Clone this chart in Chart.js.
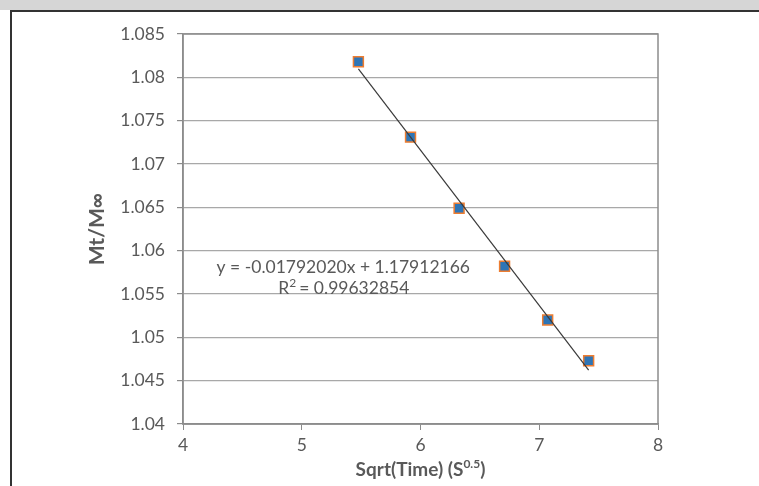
<!DOCTYPE html>
<html>
<head>
<meta charset="utf-8">
<script src="https://cdn.jsdelivr.net/npm/chart.js@4.4.1/dist/chart.umd.min.js"></script>
<style>
  html, body { margin: 0; padding: 0; background: #fff; overflow: hidden; }
  #band { position: absolute; left: 0; top: 0; width: 759px; height: 10px; background: #d6d6d6; }
  #frame { position: absolute; left: 10px; top: 10px; width: 800px; height: 500px;
           border-left: 2px solid #333; border-top: 2px solid #333; }
  #wrap { position: absolute; left: 0; top: 0; width: 759px; height: 486px; }
</style>
</head>
<body>
<div id="band"></div>
<div id="frame"></div>
<div id="wrap"><canvas id="fitChart" width="759" height="486"></canvas></div>
<script>
// Sqrt(time) values and measured Mt/M∞ ratios
const sqrtTime = [5.477, 5.916, 6.325, 6.708, 7.071, 7.416];
const ratio = [1.0818, 1.0731, 1.0649, 1.0582, 1.0520, 1.0473];

// Linear trendline as printed on the chart
const slope = -0.01792020;
const intercept = 1.17912166;
const rSquared = 0.99632854;

const xTicks = [4, 5, 6, 7, 8];
const yTicks = [1.04, 1.045, 1.05, 1.055, 1.06, 1.065, 1.07, 1.075, 1.08, 1.085];

const gray = '#595959';
const font = 'Lato, "Open Sans", sans-serif';

// trendline spans the observed x range
const xFirst = sqrtTime[0];
const xLast = sqrtTime[sqrtTime.length - 1];
const trend = [
    { x: xFirst, y: slope * xFirst + intercept },
    { x: xLast, y: slope * xLast + intercept }
];

// Draw plot border, axis titles and the equation label
const extras = {
    id: 'extras',
    afterDraw(chart) {
        const { ctx, chartArea: a, scales } = chart;
        ctx.save();
        ctx.strokeStyle = '#8c8c8c';
        ctx.lineWidth = 1.5;
        ctx.strokeRect(a.left, a.top, a.right - a.left, a.bottom - a.top);

        ctx.fillStyle = gray;
        ctx.textBaseline = 'middle';

        // y title
        ctx.save();
        ctx.translate(97, (a.top + a.bottom) / 2);
        ctx.rotate(-Math.PI / 2);
        ctx.font = 'bold 21px ' + font;
        ctx.textAlign = 'center';
        ctx.fillText('Mt/M\u221e', 0, 0);
        ctx.restore();

        // x title with superscript
        const main = 'Sqrt(Time) (S';
        const sup = '0.5';
        const close = ')';
        ctx.font = 'bold 19px ' + font;
        const w1 = ctx.measureText(main).width;
        const w3 = ctx.measureText(close).width;
        ctx.font = 'bold 12px ' + font;
        const w2 = ctx.measureText(sup).width;
        let x = (a.left + a.right) / 2 - (w1 + w2 + w3) / 2;
        const y = 470;
        ctx.textAlign = 'left';
        ctx.font = 'bold 19px ' + font;
        ctx.fillText(main, x, y);
        x += w1;
        ctx.font = 'bold 12px ' + font;
        ctx.fillText(sup, x, y - 6);
        x += w2;
        ctx.font = 'bold 19px ' + font;
        ctx.fillText(close, x, y);

        // equation label
        ctx.font = '17.5px ' + font;
        ctx.textAlign = 'center';
        const cx = scales.x.getPixelForValue(5.35);
        const eq = 'y = ' + slope.toFixed(8) + 'x + ' + intercept.toFixed(8);
        ctx.fillText(eq, cx, scales.y.getPixelForValue(1.0581));
        const r2 = '= ' + rSquared.toFixed(8);
        const wr = ctx.measureText('R  ' + r2).width;
        const ry = scales.y.getPixelForValue(1.0557);
        ctx.textAlign = 'left';
        let rx = cx - wr / 2;
        ctx.fillText('R', rx, ry);
        rx += ctx.measureText('R').width;
        ctx.font = '12px ' + font;
        ctx.fillText('2', rx, ry - 5);
        rx += ctx.measureText('2').width + 3;
        ctx.font = '17.5px ' + font;
        ctx.fillText(r2, rx, ry);
        ctx.restore();
    }
};

new Chart(document.getElementById('fitChart').getContext('2d'), {
    type: 'scatter',
    data: {
        datasets: [
            {
                label: 'Linear fit',
                data: trend,
                showLine: true,
                borderColor: '#3a3a3a',
                borderWidth: 1.2,
                pointRadius: 0
            },
            {
                label: 'Mt/M\u221e',
                data: sqrtTime.map((t, i) => ({ x: t, y: ratio[i] })),
                pointStyle: 'rect',
                pointRadius: 7,
                backgroundColor: '#2e75b6',
                borderColor: '#ed7d31',
                borderWidth: 1.5
            }
        ]
    },
    plugins: [extras],
    options: {
        responsive: false,
        animation: false,
        layout: { padding: { left: 103, right: 101, top: 34, bottom: 32 } },
        plugins: {
            legend: { display: false },
            tooltip: { enabled: false }
        },
        scales: {
            x: {
                type: 'linear',
                min: 4,
                max: 8,
                afterBuildTicks: s => { s.ticks = xTicks.map(v => ({ value: v })); },
                afterFit: s => { s.height = 30; },
                grid: { drawOnChartArea: false, drawTicks: true, tickLength: 6, color: '#8c8c8c' },
                border: { color: '#8c8c8c', width: 1.5 },
                ticks: { color: gray, font: { family: font, size: 17.5 }, padding: 5 }
            },
            y: {
                type: 'linear',
                min: 1.04,
                max: 1.085,
                afterBuildTicks: s => { s.ticks = yTicks.map(v => ({ value: v })); },
                afterFit: s => { s.width = 80; },
                grid: { color: '#a8a8a8', lineWidth: 1.2, tickLength: 6, tickColor: '#8c8c8c' },
                border: { color: '#8c8c8c', width: 1.5 },
                ticks: {
                    color: gray,
                    font: { family: font, size: 17.5 },
                    padding: 12,
                    callback: v => String(parseFloat(v.toFixed(3)))
                }
            }
        }
    }
});
</script>
</body>
</html>
